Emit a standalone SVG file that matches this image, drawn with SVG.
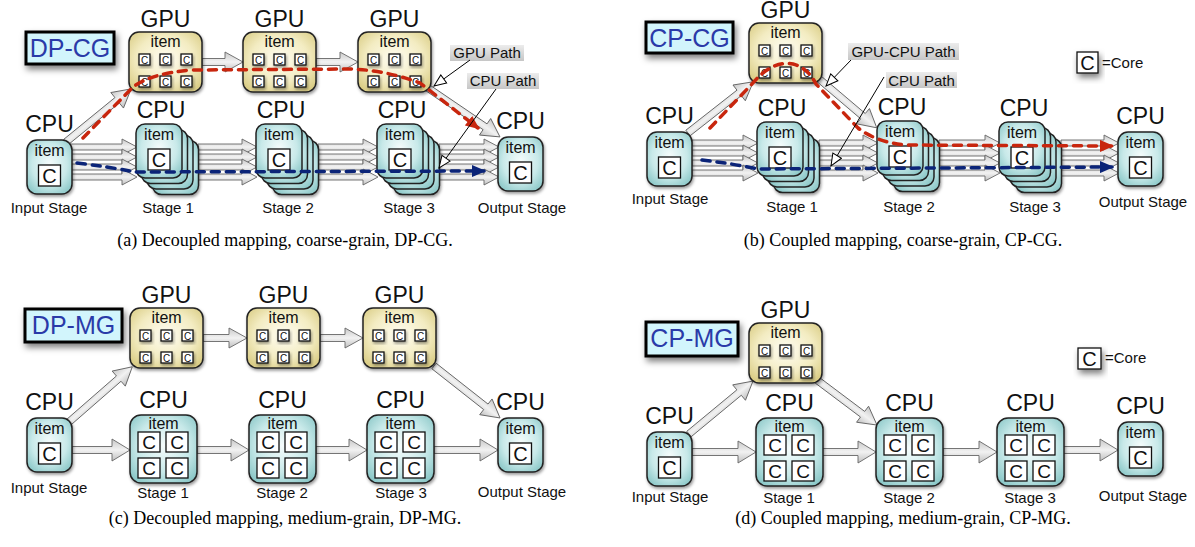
<svg xmlns="http://www.w3.org/2000/svg" width="1195" height="547" viewBox="0 0 1195 547">
<style>
.t{font-family:"Liberation Sans",Arial,sans-serif;text-anchor:middle;fill:#111}
.big{font-size:23px}
.it{font-size:16px}
.cb{font-size:20px}
.cm{font-size:19px}
.cs{font-size:10px}
.st{font-size:15px}
.an{font-size:15px}
.cap{font-family:"Liberation Serif","Times New Roman",serif;font-size:18px;text-anchor:middle;fill:#000}
.lb{font-family:"Liberation Sans",Arial,sans-serif;font-size:25px;text-anchor:middle;fill:#2a3aa8}
.gpu{fill:url(#gGpu);stroke:#222;stroke-width:1.5}
.cpu{fill:url(#gCpu);stroke:#222;stroke-width:1.5}
.cell{fill:#fff;stroke:#111;stroke-width:1.3}
.fa{fill:url(#gFa);stroke:#666;stroke-width:0.9}
.red{fill:none;stroke:#c8260e;stroke-width:3.5;stroke-dasharray:8 7;stroke-linecap:round;marker-end:url(#mRed)}
.blue{fill:none;stroke:#0b2478;stroke-width:3.5;stroke-dasharray:8 7;stroke-linecap:round;marker-end:url(#mBlue)}
.box{fill:#d2f5fc;stroke:#000;stroke-width:3}
.ann{fill:url(#gAnn)}
.al{fill:none;stroke:#000;stroke-width:1;marker-end:url(#mHol)}
</style>
<defs>
<radialGradient id="gGpu" cx="50%" cy="45%" r="65%"><stop offset="0" stop-color="#fffdf2"/><stop offset="0.6" stop-color="#f3ecc2"/><stop offset="1" stop-color="#dacd86"/></radialGradient>
<radialGradient id="gCpu" cx="50%" cy="45%" r="65%"><stop offset="0" stop-color="#f5fcfc"/><stop offset="0.6" stop-color="#c8e9e9"/><stop offset="1" stop-color="#8cc8c8"/></radialGradient>
<linearGradient id="gFa" x1="0" y1="0" x2="0" y2="1"><stop offset="0" stop-color="#c8c8c8"/><stop offset="0.5" stop-color="#f2f2f2"/><stop offset="1" stop-color="#c0c0c0"/></linearGradient>
<linearGradient id="gAnn" x1="0" y1="0" x2="0" y2="1"><stop offset="0" stop-color="#ececec"/><stop offset="1" stop-color="#c6c6c6"/></linearGradient>
<filter id="sh" x="-20%" y="-20%" width="150%" height="150%"><feDropShadow dx="1" dy="2" stdDeviation="1.5" flood-color="#000" flood-opacity="0.4"/></filter>
<filter id="sh2" x="-20%" y="-30%" width="150%" height="180%"><feDropShadow dx="2" dy="4" stdDeviation="3" flood-color="#000" flood-opacity="0.5"/></filter>
<marker id="mRed" markerUnits="userSpaceOnUse" markerWidth="14" markerHeight="12" refX="12" refY="6" orient="auto"><path d="M0,0 L14,6 L0,12 Z" fill="#c8260e"/></marker>
<marker id="mBlue" markerUnits="userSpaceOnUse" markerWidth="14" markerHeight="12" refX="12" refY="6" orient="auto"><path d="M0,0 L14,6 L0,12 Z" fill="#0b2478"/></marker>
<marker id="mHol" markerUnits="userSpaceOnUse" markerWidth="14" markerHeight="12" refX="13" refY="6" orient="auto"><path d="M1,1 L13,6 L1,11 Z" fill="#fff" stroke="#000" stroke-width="1"/></marker>
<g id="gpuNode">
<rect width="73" height="60" rx="10" class="gpu" filter="url(#sh)"/>
<text x="36.5" y="15" class="t it">item</text>
<rect x="10" y="22" width="11" height="11" class="cell" filter="url(#sh)"/><text x="15.5" y="31.5" class="t cs">C</text>
<rect x="31" y="22" width="11" height="11" class="cell" filter="url(#sh)"/><text x="36.5" y="31.5" class="t cs">C</text>
<rect x="52" y="22" width="11" height="11" class="cell" filter="url(#sh)"/><text x="57.5" y="31.5" class="t cs">C</text>
<rect x="10" y="44" width="11" height="11" class="cell" filter="url(#sh)"/><text x="15.5" y="53.5" class="t cs">C</text>
<rect x="31" y="44" width="11" height="11" class="cell" filter="url(#sh)"/><text x="36.5" y="53.5" class="t cs">C</text>
<rect x="52" y="44" width="11" height="11" class="cell" filter="url(#sh)"/><text x="57.5" y="53.5" class="t cs">C</text>
<text x="36.5" y="-5" class="t big">GPU</text>
</g>
<g id="cpuNode">
<rect width="45" height="54" rx="10" class="cpu" filter="url(#sh)"/>
<text x="22.5" y="16" class="t it">item</text>
<rect x="11.5" y="25" width="22" height="21" class="cell"/>
<text x="22.5" y="43" class="t cb">C</text>
<text x="22.5" y="-8" class="t big">CPU</text>
</g>
<g id="stack">
<rect x="16.5" y="16.5" width="46" height="54" rx="9" class="cpu" filter="url(#sh)"/>
<rect x="11" y="11" width="46" height="54" rx="9" class="cpu"/>
<rect x="5.5" y="5.5" width="46" height="54" rx="9" class="cpu"/>
<rect x="0" y="0" width="46" height="54" rx="9" class="cpu"/>
<text x="23" y="16" class="t it">item</text>
<rect x="12" y="25" width="22" height="21" class="cell"/>
<text x="23" y="43" class="t cb">C</text>
<text x="25" y="-6" class="t big">CPU</text>
</g>
<g id="mgNode">
<rect width="67" height="68" rx="11" class="cpu" filter="url(#sh)"/>
<text x="33.5" y="14" class="t it">item</text>
<rect x="8" y="17" width="22" height="20" class="cell"/><text x="19" y="34" class="t cm">C</text>
<rect x="36" y="17" width="22" height="20" class="cell"/><text x="47" y="34" class="t cm">C</text>
<rect x="8" y="43" width="22" height="20" class="cell"/><text x="19" y="60" class="t cm">C</text>
<rect x="36" y="43" width="22" height="20" class="cell"/><text x="47" y="60" class="t cm">C</text>
<text x="33.5" y="-7" class="t big">CPU</text>
</g>
</defs>
<rect width="1195" height="547" fill="#fff"/>

<g id="connectors">
<!-- (a) -->
<path class="fa" transform="translate(202,62)" d="M0,-3.5H23V-10L41,0L23,10V3.5H0Z"/>
<path class="fa" transform="translate(316,62)" d="M0,-3.5H24V-10L42,0L24,10V3.5H0Z"/>
<path class="fa" transform="translate(66,142) rotate(-39.2)" d="M0,-3.5H66V-10L84,0L66,10V3.5H0Z"/>
<path class="fa" transform="translate(428,88) rotate(34.2)" d="M0,-3.5H69V-10L87,0L69,10V3.5H0Z"/>
<path class="fa" transform="translate(70,147)" d="M0,-3H52V-8L67,0L52,8V3H0Z"/>
<path class="fa" transform="translate(70,157)" d="M0,-3H52V-8L67,0L52,8V3H0Z"/>
<path class="fa" transform="translate(70,167)" d="M0,-3H52V-8L67,0L52,8V3H0Z"/>
<path class="fa" transform="translate(70,177)" d="M0,-3H52V-8L67,0L52,8V3H0Z"/>
<path class="fa" transform="translate(198,147)" d="M0,-3H44V-8L59,0L44,8V3H0Z"/>
<path class="fa" transform="translate(198,157)" d="M0,-3H44V-8L59,0L44,8V3H0Z"/>
<path class="fa" transform="translate(198,167)" d="M0,-3H44V-8L59,0L44,8V3H0Z"/>
<path class="fa" transform="translate(198,177)" d="M0,-3H44V-8L59,0L44,8V3H0Z"/>
<path class="fa" transform="translate(318,147)" d="M0,-3H45V-8L60,0L45,8V3H0Z"/>
<path class="fa" transform="translate(318,157)" d="M0,-3H45V-8L60,0L45,8V3H0Z"/>
<path class="fa" transform="translate(318,167)" d="M0,-3H45V-8L60,0L45,8V3H0Z"/>
<path class="fa" transform="translate(318,177)" d="M0,-3H45V-8L60,0L45,8V3H0Z"/>
<path class="fa" transform="translate(439,147)" d="M0,-3H45V-8L60,0L45,8V3H0Z"/>
<path class="fa" transform="translate(439,157)" d="M0,-3H45V-8L60,0L45,8V3H0Z"/>
<path class="fa" transform="translate(439,167)" d="M0,-3H45V-8L60,0L45,8V3H0Z"/>
<path class="fa" transform="translate(439,177)" d="M0,-3H45V-8L60,0L45,8V3H0Z"/>
<!-- (b) -->
<path class="fa" transform="translate(688,133) rotate(-38.1)" d="M0,-3.5H65V-10L83,0L65,10V3.5H0Z"/>
<path class="fa" transform="translate(818,78) rotate(40.3)" d="M0,-3.5H59V-10L77,0L59,10V3.5H0Z"/>
<path class="fa" transform="translate(692,143)" d="M0,-3H51V-8L66,0L51,8V3H0Z"/>
<path class="fa" transform="translate(692,153)" d="M0,-3H51V-8L66,0L51,8V3H0Z"/>
<path class="fa" transform="translate(692,163)" d="M0,-3H51V-8L66,0L51,8V3H0Z"/>
<path class="fa" transform="translate(692,173)" d="M0,-3H51V-8L66,0L51,8V3H0Z"/>
<path class="fa" transform="translate(819,143)" d="M0,-3H44V-8L59,0L44,8V3H0Z"/>
<path class="fa" transform="translate(819,153)" d="M0,-3H44V-8L59,0L44,8V3H0Z"/>
<path class="fa" transform="translate(819,163)" d="M0,-3H44V-8L59,0L44,8V3H0Z"/>
<path class="fa" transform="translate(819,173)" d="M0,-3H44V-8L59,0L44,8V3H0Z"/>
<path class="fa" transform="translate(939,143)" d="M0,-3H46V-8L61,0L46,8V3H0Z"/>
<path class="fa" transform="translate(939,153)" d="M0,-3H46V-8L61,0L46,8V3H0Z"/>
<path class="fa" transform="translate(939,163)" d="M0,-3H46V-8L61,0L46,8V3H0Z"/>
<path class="fa" transform="translate(939,173)" d="M0,-3H46V-8L61,0L46,8V3H0Z"/>
<path class="fa" transform="translate(1061,143)" d="M0,-3H43V-8L58,0L43,8V3H0Z"/>
<path class="fa" transform="translate(1061,153)" d="M0,-3H43V-8L58,0L43,8V3H0Z"/>
<path class="fa" transform="translate(1061,163)" d="M0,-3H43V-8L58,0L43,8V3H0Z"/>
<path class="fa" transform="translate(1061,173)" d="M0,-3H43V-8L58,0L43,8V3H0Z"/>
<!-- (c) -->
<path class="fa" transform="translate(203,338)" d="M0,-3.5H26V-10L44,0L26,10V3.5H0Z"/>
<path class="fa" transform="translate(320,338)" d="M0,-3.5H25V-10L43,0L25,10V3.5H0Z"/>
<path class="fa" transform="translate(69,422) rotate(-41.1)" d="M0,-3.5H66V-10L84,0L66,10V3.5H0Z"/>
<path class="fa" transform="translate(434,366) rotate(38.2)" d="M0,-3.5H66V-10L84,0L66,10V3.5H0Z"/>
<path class="fa" transform="translate(72,450)" d="M0,-3.5H40V-11L58,0L40,11V3.5H0Z"/>
<path class="fa" transform="translate(197,450)" d="M0,-3.5H34V-11L52,0L34,11V3.5H0Z"/>
<path class="fa" transform="translate(316,450)" d="M0,-3.5H33V-11L51,0L33,11V3.5H0Z"/>
<path class="fa" transform="translate(434,450)" d="M0,-3.5H46V-11L64,0L46,11V3.5H0Z"/>
<!-- (d) -->
<path class="fa" transform="translate(689,434) rotate(-39.6)" d="M0,-3.5H65V-10L83,0L65,10V3.5H0Z"/>
<path class="fa" transform="translate(817,380) rotate(36.9)" d="M0,-3.5H57V-10L75,0L57,10V3.5H0Z"/>
<path class="fa" transform="translate(692,452)" d="M0,-3.5H46V-11L64,0L46,11V3.5H0Z"/>
<path class="fa" transform="translate(822,452)" d="M0,-3.5H36V-11L54,0L36,11V3.5H0Z"/>
<path class="fa" transform="translate(943,452)" d="M0,-3.5H36V-11L54,0L36,11V3.5H0Z"/>
<path class="fa" transform="translate(1063,450)" d="M0,-3.5H37V-11L55,0L37,11V3.5H0Z"/>
</g>

<!-- Panel (a) nodes -->
<g id="a-label"><rect x="26" y="32" width="88" height="32" class="box" filter="url(#sh2)"/><text x="70" y="57" class="lb">DP-CG</text></g>
<g id="a-input"><use href="#cpuNode" x="27" y="140"/><text x="49" y="213" class="t st">Input Stage</text></g>
<g id="a-gpu1"><use href="#gpuNode" x="129" y="32"/></g>
<g id="a-gpu2"><use href="#gpuNode" x="243" y="32"/></g>
<g id="a-gpu3"><use href="#gpuNode" x="358" y="32"/></g>
<g id="a-stage1"><use href="#stack" x="136" y="124"/><text x="168" y="213" class="t st">Stage 1</text></g>
<g id="a-stage2"><use href="#stack" x="256" y="124"/><text x="288" y="213" class="t st">Stage 2</text></g>
<g id="a-stage3"><use href="#stack" x="377" y="124"/><text x="409" y="213" class="t st">Stage 3</text></g>
<g id="a-output"><use href="#cpuNode" x="498" y="137"/><text x="522" y="213" class="t st">Output Stage</text></g>

<!-- Panel (b) nodes -->
<g id="b-label"><rect x="646" y="22" width="87" height="31" class="box" filter="url(#sh2)"/><text x="689.5" y="47" class="lb">CP-CG</text></g>
<g id="b-input"><use href="#cpuNode" x="647" y="132"/><text x="670" y="204" class="t st">Input Stage</text></g>
<g id="b-gpu"><use href="#gpuNode" x="749" y="23"/></g>
<g id="b-stage1"><use href="#stack" x="757" y="122"/><text x="792" y="212" class="t st">Stage 1</text></g>
<g id="b-stage2"><use href="#stack" x="877" y="121"/><text x="909" y="212" class="t st">Stage 2</text></g>
<g id="b-stage3"><use href="#stack" x="999" y="122"/><text x="1035" y="212" class="t st">Stage 3</text></g>
<g id="b-output"><use href="#cpuNode" x="1118" y="132"/><text x="1143" y="207" class="t st">Output Stage</text></g>
<g id="b-legend"><rect x="1077" y="52" width="21" height="21" class="cell" filter="url(#sh2)"/><text x="1087.5" y="70" class="t cb">C</text><text x="1102" y="68" class="t an" style="text-anchor:start">=Core</text></g>

<!-- Panel (c) nodes -->
<g id="c-label"><rect x="25" y="309" width="97" height="33" class="box" filter="url(#sh2)"/><text x="73.5" y="334" class="lb">DP-MG</text></g>
<g id="c-input"><use href="#cpuNode" x="27" y="418"/><text x="49" y="493" class="t st">Input Stage</text></g>
<g id="c-gpu1"><use href="#gpuNode" x="130" y="308"/></g>
<g id="c-gpu2"><use href="#gpuNode" x="247" y="308"/></g>
<g id="c-gpu3"><use href="#gpuNode" x="363" y="308"/></g>
<g id="c-stage1"><use href="#mgNode" x="130" y="415"/><text x="163" y="498" class="t st">Stage 1</text></g>
<g id="c-stage2"><use href="#mgNode" x="249" y="415"/><text x="282" y="498" class="t st">Stage 2</text></g>
<g id="c-stage3"><use href="#mgNode" x="367" y="415"/><text x="401" y="498" class="t st">Stage 3</text></g>
<g id="c-output"><use href="#cpuNode" x="498" y="418"/><text x="522" y="497" class="t st">Output Stage</text></g>

<!-- Panel (d) nodes -->
<g id="d-label"><rect x="646" y="322" width="92" height="34" class="box" filter="url(#sh2)"/><text x="692" y="347" class="lb">CP-MG</text></g>
<g id="d-input"><use href="#cpuNode" x="647" y="432"/><text x="670" y="502" class="t st">Input Stage</text></g>
<g id="d-gpu"><use href="#gpuNode" x="749" y="323"/></g>
<g id="d-stage1"><use href="#mgNode" x="756" y="418"/><text x="789" y="503" class="t st">Stage 1</text></g>
<g id="d-stage2"><use href="#mgNode" x="876" y="418"/><text x="909" y="503" class="t st">Stage 2</text></g>
<g id="d-stage3"><use href="#mgNode" x="997" y="418"/><text x="1030" y="503" class="t st">Stage 3</text></g>
<g id="d-output"><use href="#cpuNode" x="1118" y="422"/><text x="1143" y="501" class="t st">Output Stage</text></g>
<g id="d-legend"><rect x="1078" y="348" width="23" height="21" class="cell" filter="url(#sh2)"/><text x="1089.5" y="366" class="t cb">C</text><text x="1105" y="363" class="t an" style="text-anchor:start">=Core</text></g>

<!-- Execution paths and annotations -->
<g id="paths">
<path class="red" d="M83,138 L133,87 Q150,74 190,70 L350,69 Q385,70 420,83 L478,128"/>
<path class="blue" d="M77,163 Q110,167 135,172 L484,171"/>
<path class="red" d="M710,128 L752,84 Q772,60 793,64 Q808,68 816,84 L858,128 Q876,142 905,145 L1112,146"/>
<path class="blue" d="M702,160 Q735,164 758,169 L1112,167"/>
</g>
<g id="annotations">
<rect x="450" y="45" width="74" height="16" class="ann"/><text x="487" y="58" class="t an">GPU Path</text>
<rect x="467" y="73" width="72" height="16" class="ann"/><text x="503" y="86" class="t an">CPU Path</text>
<path class="al" d="M470,60 L434,86"/>
<path class="al" d="M496,89 L439,168"/>
<rect x="848" y="43" width="111" height="17" class="ann"/><text x="903.5" y="57" class="t an">GPU-CPU Path</text>
<rect x="886" y="72" width="71" height="16" class="ann"/><text x="921.5" y="86" class="t an">CPU Path</text>
<path class="al" d="M851,60 L826,86"/>
<path class="al" d="M884,77 L831,166"/>
</g>

<g id="captions">
<text x="285" y="246" class="cap">(a) Decoupled mapping, coarse-grain, DP-CG.</text>
<text x="903" y="246" class="cap">(b) Coupled mapping, coarse-grain, CP-CG.</text>
<text x="285" y="524" class="cap">(c) Decoupled mapping, medium-grain, DP-MG.</text>
<text x="903" y="524" class="cap">(d) Coupled mapping, medium-grain, CP-MG.</text>
</g>
</svg>
